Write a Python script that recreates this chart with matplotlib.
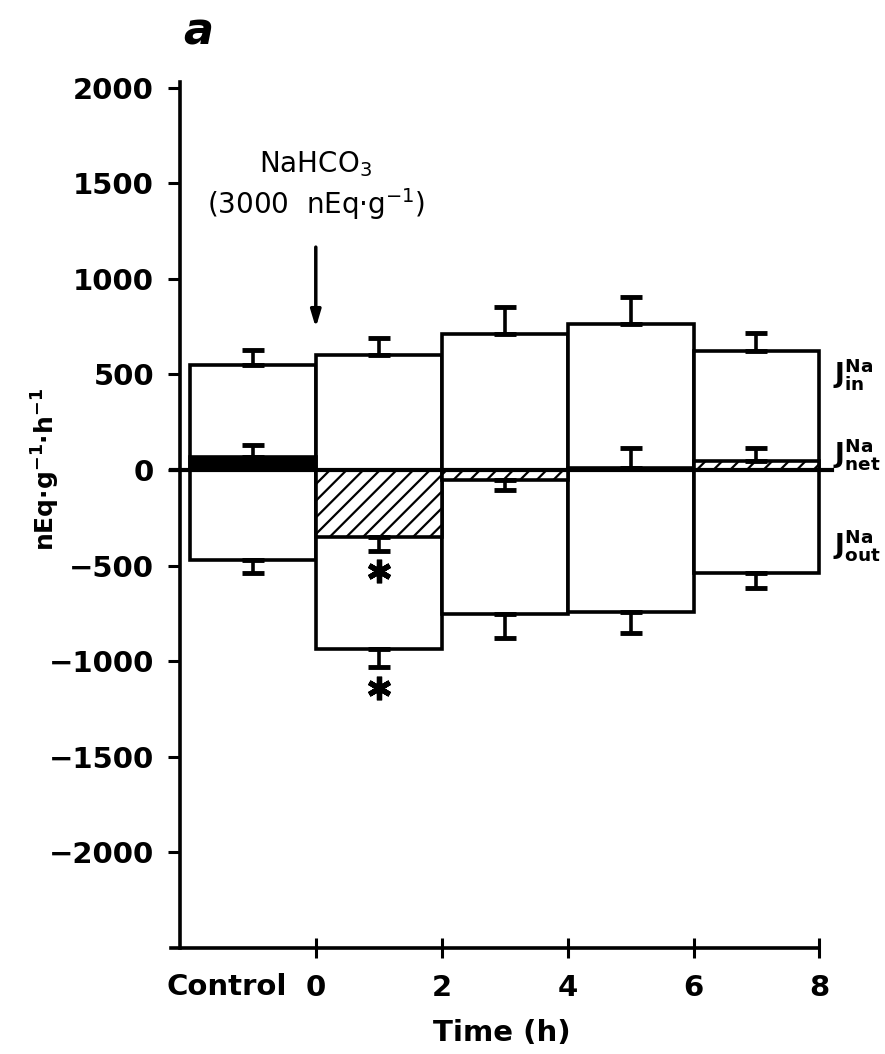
import numpy as np
import matplotlib
matplotlib.use("Agg")
import matplotlib.pyplot as plt
from matplotlib.transforms import blended_transform_factory

plt.rcParams['font.family'] = ['DejaVu Sans']
plt.rcParams['hatch.linewidth'] = 1.6
plt.rcParams['mathtext.fontset'] = 'custom'
plt.rcParams['mathtext.bf'] = 'DejaVu Sans:bold'
plt.rcParams['mathtext.rm'] = 'DejaVu Sans'

# period starts (h); control period drawn as -2..0
periods = [-2, 0, 2, 4, 6]
tick_pos = [0, 2, 4, 6, 8]
tick_labels = ['0', '2', '4', '6', '8']

# Na influx / efflux / net flux, nEq g-1 h-1
j_in = [550, 600, 710, 765, 620]
j_in_err = [80, 90, 140, 140, 95]
j_out = [-470, -935, -755, -745, -540]
j_out_err = [70, 95, 125, 105, 75]
j_net = [70, -350, -55, 12, 45]
j_net_err = [62, 75, 50, 105, 70]

signif = [1]  # periods with * (mid point)
signif_net_y = [-530]
signif_out_y = [-1140]

fig = plt.figure(figsize=(8.85, 10.54), dpi=100)
ax = fig.add_axes([171 / 885, 106 / 1054, 661 / 885, 870 / 1054])
ax.set_xlim(-2.3, 8.2)
ax.set_ylim(-2500, 2050)

lw = 2.6
mids = [p + 1 for p in periods]

# efflux and influx boxes
ax.bar(periods, j_out, width=2, align='edge', color='white', edgecolor='black', linewidth=lw, zorder=2)
ax.bar(periods, j_in, width=2, align='edge', color='white', edgecolor='black', linewidth=lw, zorder=2)

# net flux: solid for control, hatched afterwards
ax.bar(periods[0], j_net[0], width=2, align='edge', color='black', edgecolor='black', linewidth=lw, zorder=3)
ax.bar(periods[1:], j_net[1:], width=2, align='edge', color='white', edgecolor='black',
       hatch='//', linewidth=lw, zorder=3)

# one-sided SEM bars, pointing away from zero
def sem(ax, x, y, e):
    lo = [ei if yi < 0 else 0 for yi, ei in zip(y, e)]
    hi = [ei if yi >= 0 else 0 for yi, ei in zip(y, e)]
    ax.errorbar(x, y, yerr=[lo, hi], fmt='none', ecolor='black', elinewidth=2.6,
                capsize=8, capthick=3.5, zorder=4)

sem(ax, mids, j_in, j_in_err)
sem(ax, mids, j_out, j_out_err)
sem(ax, mids, j_net, j_net_err)

# zero line
ax.plot([-2.3, 8.2], [0, 0], color='black', linewidth=3, zorder=5, clip_on=False)

for x, y in zip(signif * 2, signif_net_y + signif_out_y):
    ax.plot([x], [y], marker=(6, 2, 0), markersize=17, markeredgewidth=3.8, color='black', zorder=5)

# axes
for s in ['top', 'right']:
    ax.spines[s].set_visible(False)
ax.spines['left'].set_position(('data', -2.15))
ax.spines['left'].set_linewidth(2.6)
ax.spines['bottom'].set_linewidth(2.6)
ax.spines['bottom'].set_bounds(-2.3, 8.0)
ax.spines['left'].set_bounds(-2500, 2030)

ax.set_yticks(np.arange(-2000, 2001, 500))
ax.set_yticklabels([str(v).replace('-', '\u2212') for v in range(-2000, 2001, 500)],
                   fontsize=21, fontweight='bold')
ax.tick_params(axis='y', direction='out', length=9, width=2.2, pad=10)
ax.set_xticks(tick_pos)
ax.set_xticklabels(tick_labels, fontsize=21, fontweight='bold')
ax.tick_params(axis='x', direction='inout', length=14, width=2.2, pad=12)

trans = blended_transform_factory(ax.transData, ax.transAxes)
ax.text(-1.42, -0.0445, 'Control', transform=trans, ha='center', va='center',
        fontsize=21, fontweight='bold')

ax.set_xlabel('Time (h)', fontsize=21, fontweight='bold', labelpad=12)
fig.text(46 / 885, 1 - 469 / 1054, r'nEq·g$^{\mathbf{-1}}$·h$^{\mathbf{-1}}$',
         rotation=90, ha='center', va='center', fontsize=18, fontweight='bold')

# flux labels on the right
for y, sub in [(500, 'in'), (85, 'net'), (-390, 'out')]:
    ax.text(8.22, y, r'$\mathbf{J^{Na}_{%s}}$' % sub, fontsize=19, ha='left', va='center',
            clip_on=False)

# dosing annotation
ax.annotate('', xy=(0, 730), xytext=(0, 1180),
            arrowprops=dict(arrowstyle='-|>,head_width=0.3,head_length=1.0', color='black', lw=2.5))
ax.text(0, 1600, r'NaHCO$_3$', ha='center', va='center', fontsize=20)
ax.text(0, 1390, r'(3000  nEq·g$^{-1}$)', ha='center', va='center', fontsize=20)

fig.text(183 / 885, 1 - 32 / 1054, 'a', fontsize=32, fontweight='bold', style='italic',
         ha='left', va='center')

fig.savefig('out.png', dpi=100, facecolor='white')
